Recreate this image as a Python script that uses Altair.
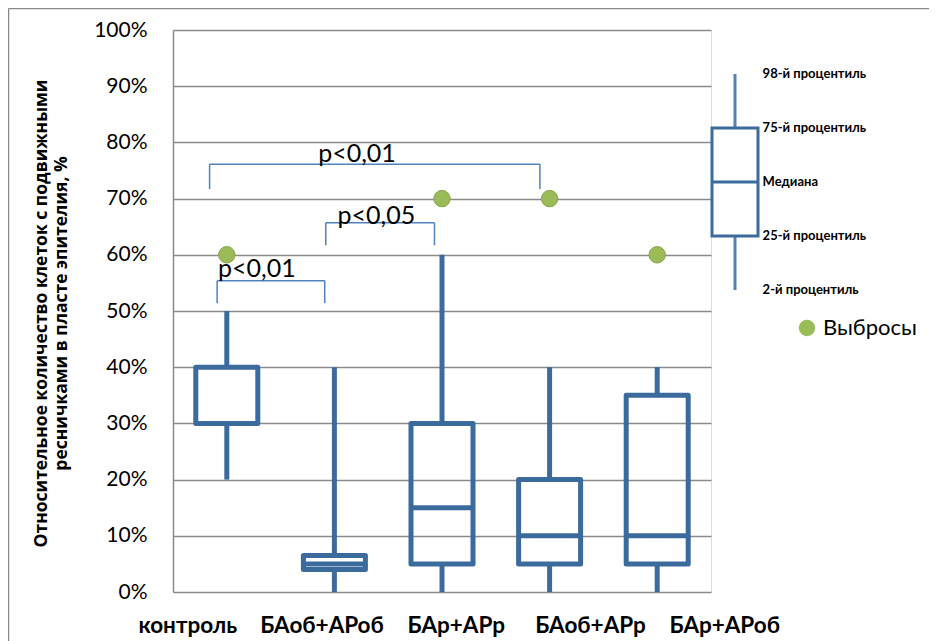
import altair as alt
import pandas as pd

# ---------------- data ----------------
categories = ["контроль", "БАоб+АРоб", "БАр+АРр", "БАоб+АРр", "БАр+АРоб"]
whisker_low = [20, 0, 0, 0, 0]
q1 = [30, 4, 5, 5, 5]
median = [30, 5, 15, 10, 10]
q3 = [40, 6.5, 30, 20, 35]
whisker_high = [50, 40, 60, 40, 40]

outlier_cat = ["контроль", "БАр+АРр", "БАоб+АРр", "БАр+АРоб"]
outlier_val = [60, 70, 70, 60]
outlier_label = "Выбросы"

# significance brackets (x in category-index units, y in %)
bracket_text = ["p<0,01", "p<0,05", "p<0,01"]
bracket_left = [-0.09, 0.92, -0.16]
bracket_right = [0.91, 1.93, 2.91]
bracket_top = [55.4, 65.7, 76.1]
bracket_bottom = [51.4, 61.7, 71.7]
text_x = [0.28, 1.39, 1.21]
text_y = [56.1, 65.5, 76.6]

legend_labels = ["98-й процентиль", "75-й процентиль", "Медиана",
                 "25-й процентиль", "2-й процентиль"]
legend_rank = [0, 1, 2, 3, 4]

# ---------------- style ----------------
FONT = "Lato, 'Open Sans', sans-serif"
TFONT = "'Open Sans', sans-serif"
BOX = "#3b6a9c"
BRACKET = "#4f81bd"
GREEN = "#9bbb59"
GRID = "#8a8a8a"
W, H = 538, 562

box_df = pd.DataFrame({"cat": categories, "low": whisker_low, "q1": q1,
                       "median": median, "q3": q3, "high": whisker_high})
out_df = pd.DataFrame({"cat": outlier_cat, "val": outlier_val,
                       "kind": [outlier_label] * len(outlier_cat)})

xband = alt.X(
    "cat:N", sort=categories,
    scale=alt.Scale(domain=categories, paddingInner=0, paddingOuter=0),
    axis=alt.Axis(title=None, domain=False, ticks=False, grid=False, labelAngle=0,
                  labelFont=FONT, labelFontSize=22.5, labelFontWeight="bold",
                  labelColor="black", labelPadding=22,
                  labelOffset={"expr": "-39 + 106.5*datum.index"}),
)
yscale = alt.Scale(domain=[0, 100], nice=False)
yaxis = alt.Axis(
    values=list(range(0, 101, 10)), labelExpr="datum.value + '%'",
    labelFont=FONT, labelFontSize=21, labelColor="black", labelPadding=26,
    ticks=False, domain=True, domainColor=GRID, domainWidth=1.5,
    grid=True, gridColor=GRID, gridWidth=1.3,
    title=["Относительное количество клеток с подвижными",
           "ресничками в пласте эпителия, %"],
    titleFont=TFONT, titleFontSize=17.5, titleFontWeight="bold", titleColor="black",
    titleX=-132, titleY=283, titleAngle=270, titleAlign="center",
    titleBaseline="middle", titleLineHeight=20,
)

base = alt.Chart(box_df)
whisk_lo = base.mark_rule(color=BOX, strokeWidth=5).encode(
    x=xband, y=alt.Y("low:Q", scale=yscale, axis=yaxis), y2="q1:Q")
whisk_hi = base.mark_rule(color=BOX, strokeWidth=5).encode(
    x=xband, y=alt.Y("q3:Q", scale=yscale), y2="high:Q")
boxes = base.mark_bar(size=62, fillOpacity=0, stroke=BOX, strokeWidth=5,
                      strokeJoin="round").encode(
    x=xband, y=alt.Y("q1:Q", scale=yscale), y2="q3:Q")
medians = base.mark_tick(color=BOX, size=62, thickness=5, opacity=1).encode(
    x=xband, y=alt.Y("median:Q", scale=yscale))
outliers = alt.Chart(out_df).mark_circle(size=270, opacity=1, stroke="#86a548",
                                         strokeWidth=1).encode(
    x=xband, y=alt.Y("val:Q", scale=yscale),
    color=alt.Color("kind:N", scale=alt.Scale(domain=[outlier_label], range=[GREEN]),
                    legend=alt.Legend(title=None, orient="none", legendX=623, legendY=287,
                                      padding=0, symbolType="circle", symbolSize=270,
                                      symbolStrokeWidth=0, labelFont=FONT,
                                      labelFontSize=22, labelColor="black",
                                      labelOffset=5)),
)
main = alt.layer(whisk_lo, whisk_hi, boxes, medians, outliers)

# brackets
seg_rows = []
for l, r, t, b in zip(bracket_left, bracket_right, bracket_top, bracket_bottom):
    seg_rows += [dict(x=l, x2=l, y=b, y2=t), dict(x=l, x2=r, y=t, y2=t),
                 dict(x=r, x2=r, y=t, y2=b)]
seg_df = pd.DataFrame(seg_rows)
txt_df = pd.DataFrame({"x": text_x, "y": text_y, "t": bracket_text})
xq = alt.Scale(domain=[-0.5, len(categories) - 0.5], nice=False, zero=False)
brackets = alt.Chart(seg_df).mark_rule(color=BRACKET, strokeWidth=1.5).encode(
    x=alt.X("x:Q", scale=xq, axis=None), x2="x2:Q",
    y=alt.Y("y:Q", scale=yscale, axis=None), y2="y2:Q")
btext = alt.Chart(txt_df).mark_text(font=FONT, fontSize=25, color="black",
                                    align="center", baseline="alphabetic").encode(
    x=alt.X("x:Q", scale=xq, axis=None), y=alt.Y("y:Q", scale=yscale, axis=None),
    text="t:N")
ann = alt.layer(brackets, btext)

# box-plot key
gx = alt.Scale(domain=[0, 1], range=[539, 585], nice=False, zero=False)
gy = alt.Scale(domain=[0, 4], range=[44, 260], nice=False, zero=False)
glines_df = pd.DataFrame([
    dict(x=0.5, x2=0.5, y=legend_rank[0], y2=legend_rank[1]),
    dict(x=0.5, x2=0.5, y=legend_rank[3], y2=legend_rank[4]),
])
gbox_df = pd.DataFrame([dict(x=0, x2=1, y=legend_rank[1], y2=legend_rank[3])])
gmed_df = pd.DataFrame([dict(x=0, x2=1, y=legend_rank[2])])
glab_df = pd.DataFrame({"y": legend_rank, "t": legend_labels, "x": [1.1] * 5})
g_wh = alt.Chart(glines_df).mark_rule(color=BRACKET, strokeWidth=3).encode(
    x=alt.X("x:Q", scale=gx, axis=None), x2="x2:Q",
    y=alt.Y("y:Q", scale=gy, axis=None), y2="y2:Q")
g_box = alt.Chart(gbox_df).mark_rect(fillOpacity=0, stroke=BOX, strokeWidth=3).encode(
    x=alt.X("x:Q", scale=gx, axis=None), x2="x2:Q",
    y=alt.Y("y:Q", scale=gy, axis=None), y2="y2:Q")
g_med = alt.Chart(gmed_df).mark_rule(color=BOX, strokeWidth=3).encode(
    x=alt.X("x:Q", scale=gx, axis=None), x2="x2:Q",
    y=alt.Y("y:Q", scale=gy, axis=None))
g_lab = alt.Chart(glab_df).mark_text(font=FONT, fontSize=13, fontWeight="bold",
                                     color="black", align="left",
                                     baseline="middle").encode(
    x=alt.X("x:Q", scale=gx, axis=None), y=alt.Y("y:Q", scale=gy, axis=None),
    text="t:N")
glyph = alt.layer(g_wh, g_box, g_med, g_lab)

# outer chart-area frame (left and top edges are visible in the reference)
frame_df = pd.DataFrame({"k": [0]})
frame_left = alt.Chart(frame_df).mark_rule(color=GRID, strokeWidth=1.5).encode(
    x=alt.value(-164.5), y=alt.value(-21.5), y2=alt.value(H + 60))
frame_top = alt.Chart(frame_df).mark_rule(color=GRID, strokeWidth=1.5).encode(
    x=alt.value(-164.5), x2=alt.value(W + 240), y=alt.value(-21.5))

chart = (
    alt.layer(main, ann, glyph, frame_left, frame_top)
    .resolve_scale(x="independent", y="independent")
    .properties(width=W, height=H,
                autosize=alt.AutoSizeParams(type="none"),
                padding={"left": 165, "top": 22, "right": 218, "bottom": 49})
    .configure_view(stroke=None)
    .configure(background="white")
)
chart.save("out.html", embed_options={"renderer": "svg", "actions": False})
